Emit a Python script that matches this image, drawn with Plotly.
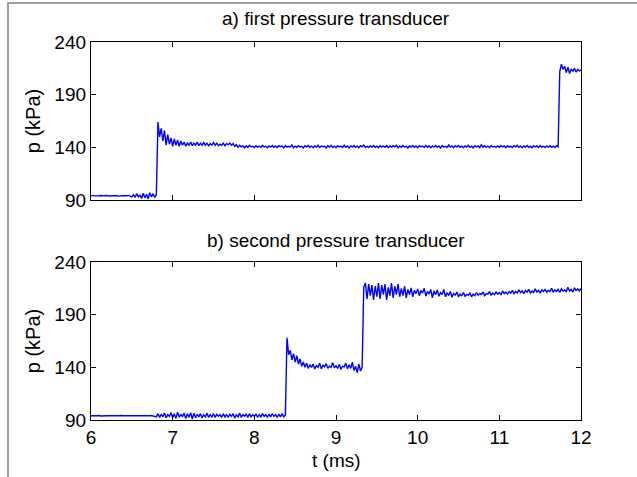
import plotly.graph_objects as go
from plotly.subplots import make_subplots

t_start = 6.0
t_step = 0.02

p_first = [
    94.0, 94.4, 93.9, 94.2, 93.8, 94.1, 94.3, 94.0, 93.9, 94.2,
    94.0, 94.1, 93.8, 94.2, 94.3, 93.9, 94.0, 93.7, 94.2, 94.0,
    94.1, 93.9, 94.0, 94.4, 94.0, 93.0, 95.0, 92.5, 96.0, 93.0,
    94.5, 91.5, 96.5, 92.0, 95.5, 91.0, 97.0, 93.0, 96.0, 92.5,
    95.0, 164.0, 150.0, 158.0, 146.0, 156.0, 142.0, 152.0, 143.0, 149.0,
    141.0, 148.0, 142.0, 147.0, 141.0, 146.0, 142.0, 145.0, 141.0, 144.0,
    142.0, 145.0, 141.5, 144.0, 142.0, 145.0, 141.5, 144.0, 142.0, 144.5,
    142.0, 144.0, 141.5, 143.5, 142.0, 144.5, 142.0, 144.0, 141.5, 143.0,
    142.0, 144.0, 141.5, 143.5, 142.5, 144.0, 142.0, 143.5, 141.0, 142.5,
    140.0, 142.0, 140.5, 141.5, 139.5, 141.5, 140.0, 142.0, 140.5, 141.0,
    139.8, 141.6, 140.2, 141.2, 140.0, 142.0, 140.4, 141.0, 139.6, 141.4,
    140.3, 141.8, 140.0, 141.3, 139.8, 141.5, 140.6, 141.2, 139.5, 141.7,
    140.2, 141.0, 140.4, 142.3, 139.6, 141.2, 140.1, 141.6, 140.3, 141.0,
    139.4, 141.5, 140.5, 141.8, 140.0, 141.2, 139.7, 141.4, 140.2, 142.0,
    139.8, 141.3, 140.6, 141.0, 139.3, 141.6, 140.2, 141.9, 140.0, 141.2,
    139.6, 141.5, 140.4, 141.1, 139.9, 142.1, 140.1, 141.3, 139.5, 141.4,
    140.3, 141.7, 140.0, 141.2, 139.7, 141.6, 140.5, 142.2, 140.1, 141.0,
    139.8, 141.4, 140.3, 141.8, 140.0, 141.1, 139.6, 141.5, 140.4, 141.2,
    140.0, 141.6, 139.8, 141.3, 140.2, 141.5, 140.4, 142.0, 139.5, 141.3,
    140.1, 141.7, 140.3, 141.0, 139.2, 141.4, 140.2, 141.8, 140.0, 141.3,
    139.7, 141.5, 140.5, 141.2, 139.8, 141.9, 140.0, 141.4, 139.6, 141.1,
    140.4, 141.8, 140.1, 141.3, 139.4, 141.6, 140.3, 141.0, 139.9, 142.2,
    140.2, 141.3, 139.6, 141.5, 140.4, 141.7, 140.0, 141.2, 139.7, 141.4,
    140.3, 141.9, 140.1, 141.1, 139.5, 141.6, 140.4, 141.3, 139.8, 142.4,
    140.2, 141.5, 140.0, 141.2, 139.6, 141.7, 140.3, 141.0, 139.9, 141.4,
    140.1, 141.8, 140.4, 141.3, 139.7, 141.5, 140.2, 141.1, 139.8, 141.6,
    140.5, 142.0, 140.1, 141.2, 139.6, 141.4, 140.3, 141.7, 140.0, 141.1,
    139.7, 141.5, 140.4, 141.3, 139.9, 141.8, 140.2, 141.0, 139.8, 141.4,
    140.3, 141.6, 140.1, 141.2, 139.9, 141.5, 140.6, 212.0, 219.0, 214.0,
    217.0, 211.0, 216.0, 210.0, 214.5, 212.0, 215.0, 211.5, 214.0, 212.5,
    213.5,
]

p_second = [
    94.0, 94.2, 93.9, 94.1, 94.0, 94.3, 93.8, 94.0, 94.2, 93.9,
    94.1, 94.0, 93.8, 94.2, 94.0, 94.1, 93.9, 94.0, 94.3, 93.9,
    94.0, 94.2, 94.0, 93.8, 94.1, 94.0, 94.2, 93.9, 94.0, 94.1,
    94.0, 93.9, 94.2, 94.0, 94.1, 93.8, 94.0, 94.2, 94.0, 93.9,
    93.0, 96.0, 92.5, 95.5, 93.0, 96.5, 92.0, 95.0, 93.5, 97.0,
    92.0, 96.0, 91.5, 97.5, 92.5, 95.5, 93.0, 96.5, 91.5, 96.0,
    92.5, 97.0, 91.0, 96.5, 92.0, 95.5, 93.0, 96.0, 92.0, 95.0,
    93.0, 96.5, 92.5, 95.0, 93.0, 96.0, 92.5, 95.5, 93.5, 95.0,
    92.5, 96.0, 93.0, 95.0, 92.5, 95.5, 93.5, 96.0, 92.0, 95.0,
    93.0, 96.5, 92.5, 95.0, 93.5, 95.5, 92.5, 96.0, 93.0, 95.0,
    93.5, 95.5, 92.5, 95.0, 93.0, 96.0, 93.5, 95.0, 92.5, 95.5,
    93.0, 96.0, 93.5, 95.0, 92.5, 95.5, 93.0, 96.0, 93.0, 94.5,
    168.0,
    152.0, 156.0, 147.0, 153.0, 145.0, 151.0, 143.0, 148.0, 141.0,
    145.0, 140.0, 144.0, 139.0, 142.5, 140.0, 143.0, 138.5, 141.5, 140.0,
    144.0, 138.5, 142.0, 140.5, 143.5, 139.0, 141.0, 140.0, 144.5, 139.5,
    141.5, 139.0, 143.0, 138.0, 141.0, 140.5, 144.0, 138.5, 142.5, 139.0,
    145.0, 137.0, 141.0, 135.0, 143.0, 136.5, 140.0,
    216.0, 220.0,
    205.0, 219.0, 208.0, 218.0, 204.0, 217.0, 207.0, 220.0, 205.0, 218.0, 209.0,
    219.0, 204.0, 216.0, 208.0, 220.0, 206.0, 217.0, 209.0, 219.0, 207.0,
    215.0, 208.0, 217.0, 206.0, 214.0, 209.0, 215.5, 207.0, 213.0, 210.0,
    214.5, 208.0, 213.0, 210.5, 215.0, 207.5, 212.0, 209.5, 214.0, 206.0,
    212.5, 209.0, 213.5, 207.5, 211.0, 209.0, 214.0, 207.0, 210.5, 208.5,
    212.0, 206.5, 210.0, 208.5, 211.5, 207.0, 209.5, 208.0, 211.0, 207.5,
    209.0, 208.5, 210.5, 207.0, 209.5, 208.0, 211.0, 208.5, 210.0, 209.0,
    211.5, 208.0, 210.0, 209.5, 212.0, 208.5, 210.5, 209.0, 211.5, 209.5,
    211.0, 209.0, 212.5, 210.0, 211.5, 209.5, 212.0, 210.5, 213.0, 210.0,
    212.0, 210.5, 213.5, 211.0, 212.5, 210.0, 213.0, 211.5, 214.0, 210.5,
    212.5, 211.0, 214.5, 211.5, 213.0, 210.5, 213.5, 212.0, 214.0, 211.5,
    213.0, 212.0, 215.0, 211.5, 213.5, 212.0, 214.0, 211.0, 214.5, 212.5,
    213.5, 212.0, 216.0, 212.5, 214.0, 211.5, 215.5, 213.0, 214.5, 212.5, 215.0,
]

x_ticks = [6, 7, 8, 9, 10, 11, 12]
y_ticks = [90, 140, 190, 240]
titles = ["a) first pressure transducer", "b) second pressure transducer"]
x_label = "t (ms)"
y_label = "p (kPa)"

def times(n):
    return [round(t_start + t_step * i, 4) for i in range(n)]

W, H = 637, 477
ml, mr, mt, mb = 91, 56, 42, 57
ph = H - mt - mb
top_dom = [(420 - 200) / ph, 1.0]
bot_dom = [0.0, (420 - 262) / ph]

fig = make_subplots(rows=2, cols=1)
fig.add_trace(go.Scatter(x=times(len(p_first)), y=p_first, mode="lines",
                         line=dict(color="#0000ff", width=1.4)), row=1, col=1)
fig.add_trace(go.Scatter(x=times(len(p_second)), y=p_second, mode="lines",
                         line=dict(color="#0000ff", width=1.4)), row=2, col=1)

font = "Liberation Sans, Arial, sans-serif"
axis_common = dict(showline=True, linecolor="black", linewidth=1.3, mirror="ticks",
                   ticks="inside", ticklen=5, tickwidth=1, tickcolor="black",
                   showgrid=False, zeroline=False, automargin=False,
                   tickfont=dict(family=font, size=19, color="black"))

fig.update_xaxes(range=[6, 12], tickvals=x_ticks, **axis_common)
fig.update_yaxes(range=[90, 240], tickvals=y_ticks, **axis_common)
fig.update_xaxes(showticklabels=False, row=1, col=1)
fig.update_yaxes(title=dict(text=y_label, font=dict(family=font, size=20, color="black"), standoff=8))

fig.update_layout(
    width=W, height=H,
    margin=dict(l=ml, r=mr, t=mt, b=mb),
    paper_bgcolor="white", plot_bgcolor="white",
    showlegend=False,
    xaxis=dict(domain=[0, 1]), yaxis=dict(domain=top_dom),
    xaxis2=dict(domain=[0, 1]), yaxis2=dict(domain=bot_dom),
)

pw = W - ml - mr
def px(xpix):
    return (xpix - ml) / pw
def py(ypix):
    return (H - mb - ypix) / ph

fig.add_annotation(text=titles[0], x=0.5, y=py(19), xref="paper", yref="paper",
                   showarrow=False, font=dict(family=font, size=19, color="black"),
                   xanchor="center", yanchor="middle")
fig.add_annotation(text=titles[1], x=0.5, y=py(240), xref="paper", yref="paper",
                   showarrow=False, font=dict(family=font, size=19, color="black"),
                   xanchor="center", yanchor="middle")
fig.add_annotation(text=x_label, x=0.5, y=py(460), xref="paper", yref="paper",
                   showarrow=False, font=dict(family=font, size=19, color="black"),
                   xanchor="center", yanchor="middle", borderpad=0)

fig.add_shape(type="rect", xref="paper", yref="paper",
              x0=px(8), x1=px(700), y0=py(520), y1=py(3),
              line=dict(color="#808080", width=1.5), fillcolor="rgba(0,0,0,0)", layer="below")

fig.write_html("out.html", config={"displayModeBar": False},
               post_script="document.body.style.margin='0';document.body.style.overflow='hidden';")
